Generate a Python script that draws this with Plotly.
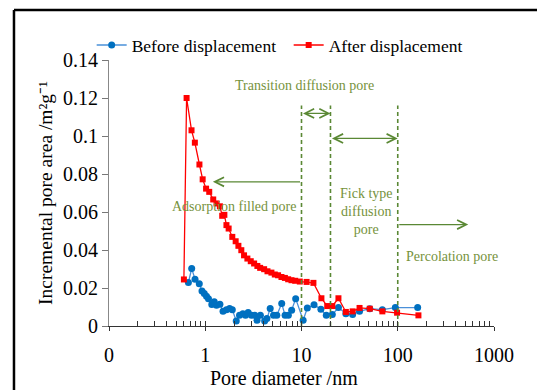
import math
import plotly.graph_objects as go

# ---------------- data ----------------
before_x = [0.668, 0.723, 0.783, 0.867, 0.925, 0.977, 1.03, 1.08, 1.17, 1.24,
            1.31, 1.42, 1.53, 1.66, 1.79, 1.91, 2.10, 2.27, 2.46, 2.62,
            2.79, 3.02, 3.27, 3.45, 3.74, 4.14, 4.37, 4.73, 5.12, 5.54,
            6.23, 6.75, 7.3, 7.9, 8.7, 10.4, 11.5, 13.5, 15.9, 18.1,
            20.9, 24.2, 28.9, 34.0, 40.1, 51.2, 69.2, 94.4, 161]
before_y = [0.0229, 0.0302, 0.0246, 0.0223, 0.0184, 0.0171, 0.0157, 0.0144, 0.0113, 0.0127,
            0.0109, 0.0114, 0.0077, 0.0086, 0.0092, 0.0086, 0.0026, 0.0056, 0.0065, 0.0056,
            0.0071, 0.0056, 0.0056, 0.0030, 0.0056, 0.0026, 0.0039, 0.0092, 0.0056, 0.0056,
            0.0118, 0.0056, 0.0056, 0.0083, 0.0144, 0.0030, 0.0095, 0.0112, 0.0088, 0.0056,
            0.0060, 0.0097, 0.0065, 0.0060, 0.0077, 0.0091, 0.0086, 0.0097, 0.0097]

after_x = [0.60, 0.64, 0.72, 0.78, 0.87, 0.94, 1.02, 1.10, 1.21, 1.31,
           1.42, 1.50, 1.58, 1.66, 1.75, 1.91, 2.07, 2.21, 2.37, 2.53,
           2.74, 2.97, 3.22, 3.48, 3.72, 4.09, 4.43, 4.87, 5.28, 5.71,
           6.19, 6.72, 7.27, 7.87, 8.6, 9.6, 11.3, 13.3, 16.1, 18.5,
           20.9, 24.2, 28.9, 34.0, 40.1, 51.2, 69.2, 98.4, 164]
after_y = [0.0245, 0.1200, 0.1030, 0.0965, 0.0850, 0.0772, 0.0723, 0.0706, 0.0666, 0.0645,
           0.0630, 0.0580, 0.0585, 0.0531, 0.0513, 0.0469, 0.0446, 0.0422, 0.0399, 0.0372,
           0.0355, 0.0341, 0.0329, 0.0316, 0.0306, 0.0299, 0.0288, 0.0281, 0.0271, 0.0267,
           0.0258, 0.0253, 0.0246, 0.0241, 0.0238, 0.0234, 0.0232, 0.0227, 0.0146, 0.0105,
           0.0105, 0.0146, 0.0074, 0.0077, 0.0095, 0.0091, 0.0077, 0.0070, 0.0056]

x_tickvals = [0.1, 1, 10, 100, 1000]
x_ticktext = ["0", "1", "10", "100", "1000"]
y_tickvals = [0, 0.02, 0.04, 0.06, 0.08, 0.1, 0.12, 0.14]
y_ticktext = ["0", "0.02", "0.04", "0.06", "0.08", "0.1", "0.12", "0.14"]
minor_vals = [k * 10 ** n for n in range(-1, 3) for k in range(2, 10)]

boundaries = [10, 20, 100]          # pore class boundaries (nm)
boundary_top = 0.116

FONT = "Liberation Serif"
GREEN_TXT = "#76923C"
GREEN_LN = "#5A8834"

fig = go.Figure()

fig.add_trace(go.Scatter(
    x=before_x, y=before_y, mode="lines+markers", name="Before displacement",
    line=dict(color="#4A90D9", width=1.3),
    marker=dict(symbol="circle", size=7, color="#0070C0"),
))
fig.add_trace(go.Scatter(
    x=after_x, y=after_y, mode="lines+markers", name="After displacement",
    line=dict(color="#FF0000", width=1.3),
    marker=dict(symbol="square", size=6, color="#FF0000"),
))

for b in boundaries:
    fig.add_trace(go.Scatter(
        x=[b, b], y=[0, boundary_top], mode="lines", showlegend=False,
        hoverinfo="skip", line=dict(color=GREEN_LN, width=1.6, dash="4px,3px"),
    ))

# helper trace for the inner half of the major x ticks
fig.add_trace(go.Scatter(x=[None], y=[None], xaxis="x2", showlegend=False, hoverinfo="skip"))

lg = math.log10
arrows = [
    # (head_x, tail_x, y, both)
    (1.2, 10, 0.0759, False),
    (20, 10, 0.1119, True),
    (100, 20, 0.0987, True),
    (540, 100, 0.0534, False),
]
annotations = []
for hx, tx, yy, both in arrows:
    annotations.append(dict(
        x=lg(hx), y=yy, ax=lg(tx), ay=yy, xref="x", yref="y", axref="x", ayref="y",
        text="", showarrow=True, arrowhead=5, arrowsize=1.5, arrowwidth=1.2,
        arrowcolor=GREEN_LN, standoff=0, startstandoff=0,
        arrowside="end+start" if both else "end", startarrowhead=5, startarrowsize=1.5,
    ))

labels = [
    ("Transition diffusion pore", 1.036, 0.1268),
    ("Adsorption filled pore", 0.299, 0.0631),
    ("Fick type<br>diffusion<br>pore", 1.677, 0.0604),
    ("Percolation pore", 2.56, 0.0367),
]
for t, lx, ly in labels:
    annotations.append(dict(x=lx, y=ly, xref="x", yref="y", text=t, showarrow=False,
                            font=dict(family=FONT, size=14, color=GREEN_TXT),
                            xanchor="center", yanchor="middle"))

annotations.append(dict(x=0.4545, y=-0.195, xref="paper", yref="paper",
                        text="Pore diameter /nm", showarrow=False,
                        font=dict(family=FONT, size=20, color="black"),
                        xanchor="center", yanchor="middle"))

shapes = [
    dict(type="line", xref="paper", yref="paper", x0=-0.2468, x1=-0.2468, y0=-0.3, y1=1.188,
         line=dict(color="black", width=2.5)),
    dict(type="line", xref="paper", yref="paper", x0=-0.2468, x1=1.2, y0=1.188, y1=1.188,
         line=dict(color="black", width=2.5)),
]

fig.update_layout(
    width=537, height=390,
    margin=dict(l=109, r=43, t=60, b=64),
    paper_bgcolor="white", plot_bgcolor="white",
    font=dict(family=FONT, color="black"),
    showlegend=True,
    legend=dict(orientation="h", x=-0.045, y=1.056, xanchor="left", yanchor="middle",
                font=dict(family=FONT, size=17.5, color="black"), bgcolor="rgba(0,0,0,0)",
                itemwidth=30, tracegroupgap=0, entrywidth=152, entrywidthmode="pixels"),
    xaxis=dict(type="log", range=[-1, 3], tickmode="array", tickvals=x_tickvals,
               ticktext=x_ticktext, ticks="outside", ticklen=4, tickwidth=1, tickcolor="#333",
               showline=True, linecolor="#333", linewidth=1, showgrid=False, zeroline=False,
               tickfont=dict(family=FONT, size=20, color="black"), ticklabelstandoff=7,
               minor=dict(tickmode="array", tickvals=minor_vals, ticks="inside", ticklen=5,
                          tickwidth=1, tickcolor="#333", showgrid=False)),
    xaxis2=dict(type="log", range=[-1, 3], overlaying="x", anchor="y", side="bottom",
                tickmode="array", tickvals=x_tickvals, ticks="inside", ticklen=5,
                tickwidth=1, tickcolor="#333", showticklabels=False, showline=False,
                showgrid=False, zeroline=False),
    yaxis=dict(range=[0, 0.14], tickmode="array", tickvals=y_tickvals, ticktext=y_ticktext,
               ticks="outside", ticklen=6, tickwidth=1, tickcolor="#777",
               showline=True, linecolor="#888", linewidth=1, showgrid=False, zeroline=False,
               tickfont=dict(family=FONT, size=20, color="black"),
               title=dict(text="Incremental pore area /m²g⁻¹",
                          font=dict(family=FONT, size=19.5, color="black"), standoff=5)),
    annotations=annotations,
    shapes=shapes,
)

fig.write_html("out.html")
